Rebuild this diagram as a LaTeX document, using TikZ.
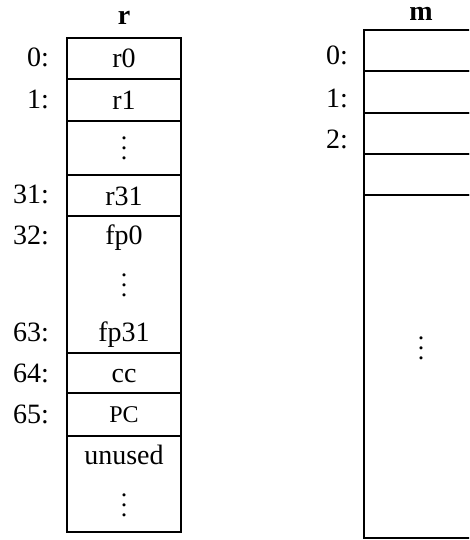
\documentclass[tikz,border=0pt]{standalone}
\usepackage{fontspec}
\usepackage{graphicx}
\setmainfont{Liberation Serif}
% three stacked dots without the top kern of \vdots, so they centre in a node
\newcommand{\stackdots}{\scalebox{2.6}{\vbox{\baselineskip3.85pt\lineskiplimit0pt
  \hbox{.}\hbox{.}\hbox{.}}}}
\tikzset{
  bigfont/.style={font=\fontsize{28}{30}\selectfont},
  cellbox/.style={draw, line width=1.7pt, minimum width=114pt, inner sep=0pt,
    bigfont, text height=19pt, text depth=0pt},
  memcell/.style={draw, line width=1.7pt, minimum width=116pt, inner sep=0pt},
  txt/.style={inner sep=0pt, bigfont, text height=19pt, text depth=0pt},
  lab/.style={txt, anchor=east},
  title/.style={inner sep=0pt, font=\fontsize{28}{30}\selectfont\bfseries},
  vd/.style={inner sep=0pt}
}
\begin{document}
\begin{tikzpicture}[x=1pt, y=-1pt]
  \useasboundingbox (0,0) rectangle (469,540);
  \clip (0,0) rectangle (469,540);

  % register file r
  \node[title] (rtitle) at (124,18) {r};
  \node[cellbox, minimum height=41pt] (r0) at (124,58.5) {r0};
  \node[cellbox, minimum height=42pt] (r1) at (124,100) {r1};
  \node[cellbox, minimum height=54pt] (rdots) at (124,148) {};
  \node[vd] (rdotsv) at (rdots.center) {\stackdots};
  \node[cellbox, minimum height=41pt] (r31) at (124,195.5) {r31};
  \node[cellbox, minimum height=137pt] (fp) at (124,284.5) {};
  \node[txt] (fp0) at (124,235) {fp0};
  \node[vd] (fpdots) at (124,285) {\stackdots};
  \node[txt] (fp31) at (124,332) {fp31};
  \node[cellbox, minimum height=40pt] (cc) at (124,373) {cc};
  \node[cellbox, minimum height=43pt, font=\fontsize{24}{26}\selectfont, text height=16pt] (pc) at (124,414.5) {PC};
  \node[cellbox, minimum height=96pt] (unused) at (124,484) {};
  \node[txt] (unusedt) at (124,455) {unused};
  \node[vd] (udots) at (124,505) {\stackdots};

  % register indices
  \node[lab] (l0) at (49,57.5) {0:};
  \node[lab] (l1) at (49,99.5) {1:};
  \node[lab] (l31) at (49,194) {31:};
  \node[lab] (l32) at (49,235) {32:};
  \node[lab] (l63) at (49,332) {63:};
  \node[lab] (l64) at (49,373) {64:};
  \node[lab] (l65) at (49,414) {65:};

  % memory m
  \node[title] (mtitle) at (421,14) {m};
  \node[memcell, minimum height=41pt] (m0) at (422,50.5) {};
  \node[memcell, minimum height=42pt] (m1) at (422,92) {};
  \node[memcell, minimum height=41pt] (m2) at (422,133.5) {};
  \node[memcell, minimum height=41pt] (m3) at (422,174.5) {};
  \node[memcell, minimum height=343pt] (mrest) at (422,366.5) {};
  \node[vd] (mdots) at (421,348) {\stackdots};

  % memory addresses
  \node[lab] (ml0) at (348,55) {0:};
  \node[lab] (ml1) at (348,98) {1:};
  \node[lab] (ml2) at (348,139) {2:};
\end{tikzpicture}
\end{document}
